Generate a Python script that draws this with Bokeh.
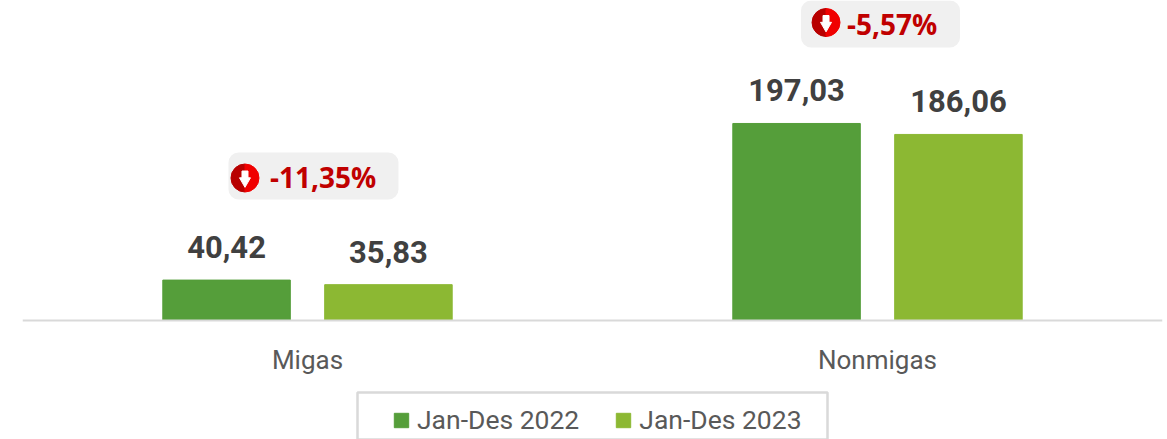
from bokeh.plotting import figure
from bokeh.embed import file_html
from bokeh.resources import INLINE
from bokeh.core.properties import value
from bokeh.models import ColumnDataSource, Legend, LegendItem, FactorRange, Range1d
from bokeh.transform import dodge
import math

categories = ["Migas", "Nonmigas"]
series_2022 = [40.42, 197.03]
series_2023 = [35.83, 186.06]
labels_2022 = ["40,42", "197,03"]
labels_2023 = ["35,83", "186,06"]
changes = ["-11,35%", "-5,57%"]
names = ["Jan-Des 2022", "Jan-Des 2023"]

C1, C2 = "#559e3a", "#8cb833"
SANS = "Roboto"

src = ColumnDataSource(dict(cat=categories, a=series_2022, b=series_2023, la=labels_2022, lb=labels_2023))

p = figure(width=1167, height=439, x_range=FactorRange(factors=categories, range_padding=0, factor_padding=0),
           y_range=Range1d(-119, 320), output_backend="svg", toolbar_location=None,
           min_border_left=22, min_border_right=5, min_border_top=0, min_border_bottom=0)
p.styles = {"position": "absolute", "left": "0px", "top": "0px"}
p.outline_line_color = None
p.grid.visible = False
p.yaxis.visible = False
ax = p.xaxis[0]
ax.fixed_location = 0
ax.axis_line_color = "#d9d9d9"
ax.axis_line_width = 2
ax.major_tick_line_color = None
ax.minor_tick_line_color = None
ax.major_label_text_font = SANS
ax.major_label_text_font_size = "26px"
ax.major_label_text_color = "#595959"
ax.major_label_standoff = 18

D, W = 0.142, 0.2237
r1 = p.vbar(x=dodge("cat", -D, range=p.x_range), top="a", width=W, source=src, color=C1)
r2 = p.vbar(x=dodge("cat", D, range=p.x_range), top="b", width=W, source=src, color=C2)

for col, lab, d in (("a", "la", -D), ("b", "lb", D)):
    p.text(x=dodge("cat", d, range=p.x_range), y=col, text=lab, source=src,
           text_font=value(SANS), text_font_style="bold", text_font_size="31px",
           text_color="#404040", text_align="center", text_baseline="alphabetic", y_offset=-33)

badge_bottom = [121, 273]
badge_top = [168, 320]
b_off = [(0.0105, 170 / 570), (0.0053, 159 / 570)]
icon_dx = [16.5, 25]
text_dx = [25, 21]
icon_dy = [-2, 1.5]
text_off = [1, 0]
for i, (off, w) in enumerate(b_off):
    s = ColumnDataSource(dict(cat=[categories[i]], bot=[badge_bottom[i]], top=[badge_top[i]],
                              ch=[changes[i]], cy=[(badge_bottom[i] + badge_top[i]) / 2]))
    p.vbar(x=dodge("cat", off, range=p.x_range), bottom="bot", top="top", width=w, source=s,
           fill_color="#f0f0f0", line_color=None, border_radius=10)
    icon = off - w / 2 + icon_dx[i] / 570
    ix = dodge("cat", icon, range=p.x_range)
    dy = icon_dy[i]
    p.wedge(x=ix, y=dodge("cy", dy), radius=14, radius_units="screen", start_angle=math.pi / 2,
            end_angle=3 * math.pi / 2, color="#b80000", source=s)
    p.wedge(x=ix, y=dodge("cy", dy), radius=14, radius_units="screen", start_angle=-math.pi / 2,
            end_angle=math.pi / 2, color="#f00000", source=s)
    p.scatter(x=ix, y=dodge("cy", dy - 3), marker="inverted_triangle", size=11, color="white", source=s)
    p.rect(x=ix, y=dodge("cy", dy + 3.5), width=6, height=7, width_units="screen", height_units="screen",
           color="white", source=s)
    p.text(x=dodge("cat", icon + text_dx[i] / 570, range=p.x_range), y="cy", text="ch", source=s,
           text_font=value("Open Sans"), text_font_style="bold", text_font_size="28px", text_color="#c00000",
           text_align="left", text_baseline="middle", y_offset=text_off[i])

# legend frame: runs past the bottom of the picture
frame_src = ColumnDataSource(dict(cat=["Migas"], bot=[-140], top=[-72]))
p.vbar(x=dodge("cat", 0.5, range=p.x_range), bottom="bot", top="top", width=470 / 570, source=frame_src,
       fill_color="white", line_color="#d9d9d9", line_width=2.5)

legend = Legend(items=[LegendItem(label=names[0], renderers=[r1]), LegendItem(label=names[1], renderers=[r2])],
                orientation="horizontal", location=(370, 4),
                label_text_font=SANS, label_text_font_size="26.5px", label_text_color="#595959",
                glyph_width=18, glyph_height=18, label_standoff=7, spacing=35, padding=0, margin=0,
                border_line_color=None, background_fill_alpha=0)
p.add_layout(legend, "center")

open("out.html", "w").write(file_html(p, INLINE))
